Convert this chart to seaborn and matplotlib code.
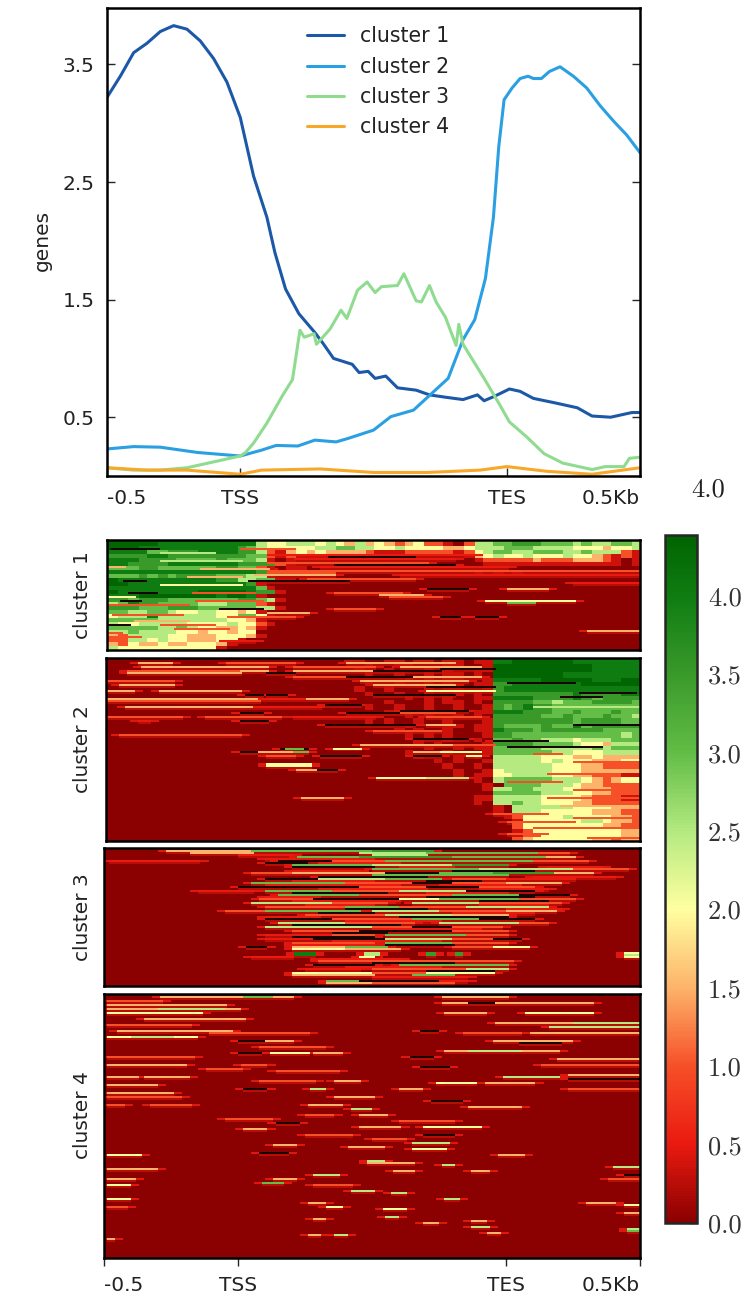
import numpy as np
import pandas as pd
import matplotlib
matplotlib.use("Agg")
import matplotlib.pyplot as plt
from matplotlib.colors import LinearSegmentedColormap, Normalize
from matplotlib.cm import ScalarMappable
import seaborn as sns

sns.set_style("white")
plt.rcParams["font.family"] = ["DejaVu Sans"]
plt.rcParams["axes.formatter.use_mathtext"] = True

# profile values (x in bins, TSS = 50, TES = 150, y = mean signal)
c1_x = [0,5,10,15,20,25,30,35,40,45,50,55,60,63,67,72,78,81,85,92,94.6,98,100.6,104.6,109,116,121,127,133.6,139,141.5,145.6,151,155,160,168.5,176.5,182,189,197,200]
c1_y = [3.22,3.4,3.6,3.68,3.78,3.83,3.8,3.7,3.55,3.35,3.05,2.55,2.2,1.9,1.59,1.38,1.22,1.13,1.0,.95,.88,.89,.83,.85,.75,.73,.69,.67,.65,.69,.64,.68,.74,.72,.66,.62,.58,.51,.50,.54,.54]
c2_x = [0,10,20,34,50,58,63.5,71.6,78,86,90.5,100,106.5,115,122.7,128,133.6,138,142,145,147,149,152,155,158,160,163,166,170,175,180,185,190,195,200]
c2_y = [.23,.25,.245,.2,.17,.22,.26,.255,.305,.29,.32,.39,.505,.56,.72,.83,1.16,1.33,1.68,2.2,2.8,3.2,3.3,3.38,3.40,3.38,3.38,3.44,3.48,3.4,3.3,3.15,3.02,2.9,2.75]
c3_x = [0,10,20,30,40,50,52,55,60,66,69.6,72.4,74,77.7,78.6,83.7,87.8,90,94,97.6,100.6,103,109,111.4,116,118,121,123.5,127,131,132,133.6,141.5,147,151,157.6,164,171,182,187,194,196,200]
c3_y = [.07,.05,.05,.07,.12,.17,.2,.28,.45,.69,.82,1.24,1.18,1.21,1.12,1.25,1.41,1.34,1.58,1.65,1.56,1.61,1.62,1.72,1.49,1.48,1.62,1.48,1.35,1.11,1.29,1.12,.83,.62,.46,.33,.19,.11,.055,.08,.08,.15,.16]
c4_x = [0,15,30,50,58,80,100,120,140,150,165,182,200]
c4_y = [.07,.05,.05,.015,.05,.06,.03,.03,.05,.08,.04,.015,.07]
profile_names = ["cluster 1", "cluster 2", "cluster 3", "cluster 4"]
profile_colors = ["#1c58a8", "#2a9fe2", "#8fdc90", "#f8a828"]

# coarse heatmap rows, one digit per column: value = digit * 0.5
heat1 = """
999998888 888888544 555454353 432342210 255667776 665655665
999888888 888876544 444556655 445444433 455566655 554443445
888866777 888877521 343433332 111222221 245665566 655655521
777788777 777776621 211110000 000000000 134544544 454432121
888777766 667666510 100000000 000000000 012222232 223332101
887777888 888877772 100000000 000000000 001111111 111111101
666776666 667766210 110000000 000000000 000000000 000000000
888888888 888888771 100000000 000000000 010101000 000000000
666767677 776665510 000000000 000000000 000000000 000000000
988888888 887755661 100000000 000000000 000000000 000000000
998888888 888887100 000000000 000000000 000000000 000000000
888888888 888888610 000000000 000000000 000000000 000000000
988888888 999998771 000000000 000000000 000000000 000000000
888999999 998998100 000000000 000000000 000000000 000000000
776777666 666677651 000000000 000000000 000000000 000000000
568776666 555666210 000000000 000000000 000000000 000000000
777666777 666666551 000000000 000000000 000000000 000000000
665566544 554434100 000000000 000000000 000000000 000000000
455585555 554466410 000000000 000000000 000000000 000000000
666665555 555443100 000000000 000000000 000000000 000000000
544555554 444544210 000000000 000000000 000000000 000000000
666665565 443343100 000000000 000000000 000000000 000000000
556555544 344344000 000000000 000000000 000000000 000000000
325555443 334443100 000000000 000000000 000000000 000000000
225545443 334410000 000000000 000000000 000000000 000000000
324334334 443100000 000000000 000000000 000000000 000000000
544444444 441000000 000000000 000000000 000000000 000000000
""".split("\n")
heat2 = """
000000000 000000000 000000110 011011011 011889999 998888888
000000000 000000000 000000001 001100011 001999999 999988888
000000000 000000000 000000010 010001010 011999999 999988888
000000000 000000000 000000001 001001011 010999999 988888888
000000000 000000000 000000000 000101011 001888889 999988899
000000000 000000000 000000001 001001010 011778888 888999999
000000000 000000000 000000010 010001011 001788888 888888888
000000000 000000000 000000001 001001001 010777777 778777788
000000000 000000000 000000000 000101010 011888877 778767777
000000000 000000000 000000000 010001011 010777766 566677776
000000000 000000000 000000001 001001001 001767877 666666666
000000000 000000000 000000000 010010010 011888777 667666766
000000000 000000000 000000000 000101001 010777776 676667665
000000000 000000000 000000001 010010010 001777777 776777766
000000000 000000000 000000000 000100011 011766667 668677777
000000000 000000000 000000000 001010010 011877767 777776666
000000000 000000000 000000000 000101010 001776666 666666656
000000000 000000000 000000000 000010010 010667665 554555666
000000000 000000000 000000000 000010100 001777766 665443555
000000000 000000000 000000000 000001001 011666665 555565666
000000000 000000000 000000000 000100010 001666666 554445555
000000000 000000000 000000000 000010001 010555554 443343333
000000000 000000000 000000000 000000101 001555554 544433344
000000000 000000000 000000000 000000010 010555555 444332222
000000000 000000000 000000000 000000001 001455555 444333333
000000000 000000000 000000000 000000001 011445555 443322211
000000000 000000000 000000000 000000000 010566666 555432344
000000000 000000000 000000000 000000000 001066665 554332222
000000000 000000000 000000000 000000000 001556655 544333222
000000000 000000000 000000000 000000000 000666665 554433222
000000000 000000000 000000000 000000000 011555554 444322211
000000000 000000000 000000000 000000000 010556554 443322222
000000000 000000000 000000000 000000000 000105555 554444333
000000000 000000000 000000000 000000000 000105554 444433322
000000000 000000000 000000000 000000000 000012444 454444332
000000000 000000000 000000000 000000000 000001444 444554332
000000000 000000000 000000000 000000000 000002444 444443322
000000000 000000000 000000000 000000000 000001244 444444433
000000000 000000000 000000000 000000000 000001224 444444433
000000000 000000000 000000000 000000000 000002344 444433233
""".split("\n")
heat3 = []
heat4 = []
heat_rows = [heat1, heat2, heat3, heat4]

# thin streaks read row by row: (row, first bin, last bin, digit); X is the dark colour
X = 20
streaks1 = [(4,1,19,X),(4,50,70,2),(6,20,40,5),(7,60,140,1),(8,83,115,X),(9,70,130,1),(10,20,50,5),(11,60,120,2),(12,85,130,X),(13,0,6,3),
            (13,80,150,1),(14,35,60,3),(15,60,199,2),(16,60,85,2),(17,55,85,3),(17,110,199,1),(18,30,50,3),(19,75,115,2),(20,6,14,X),(20,53,90,X),(21,175,199,1),
            (22,20,50,4),(24,120,135,X),(24,150,165,3),(26,8,18,X),(26,32,55,2),(26,85,110,2),(27,102,118,3),(28,0,10,4),(28,106,125,2),
            (30,5,12,X),(30,33,58,2),(30,142,175,4),(31,150,160,6),(32,0,30,2),(34,42,58,X),(34,85,100,2),(36,60,75,3),(37,2,28,2),(38,125,132,X),
            (38,138,146,X),(38,45,70,2),(40,10,30,3),(42,0,8,X),(42,20,40,2),(44,25,45,2),(45,180,199,3),(46,0,5,2),(48,0,12,2),(50,42,55,1)]
streaks2 = [(2,12,24,3),(2,45,70,2),(2,90,130,3),(4,13,60,3),(4,70,100,2),(4,110,140,3),(5,125,145,X),(6,8,50,2),
            (6,50,60,3),(6,70,100,3),(6,100,125,X),(7,8,50,3),(7,60,70,X),(9,70,100,2),(9,90,115,X),(9,115,140,3),
            (11,0,25,2),(11,95,135,3),(13,5,25,3),(13,100,130,3),(14,120,145,X),(16,0,10,3),(16,20,50,3),(16,120,145,4),
            (18,52,58,X),(18,60,67,X),(18,100,130,X),(20,0,57,3),(20,57,75,1),(20,75,90,3),(21,0,57,2),(23,82,95,X),
            (24,7,55,3),(24,55,80,1),(26,110,135,X),(27,50,58,X),(27,90,110,X),(27,110,130,2),(29,0,28,2),(29,37,65,2),
            (29,70,100,1),(29,120,140,2),(31,12,16,1),(31,50,60,X),(33,82,95,X),(33,95,115,X),(33,120,130,3),(36,100,125,2),
            (38,5,50,2),(40,115,135,X),(43,95,130,3),(43,130,145,2),(45,65,75,X),(45,67,73,6),(45,85,95,4),(47,50,60,X),
            (47,57,70,3),(47,70,75,6),(47,115,125,3),(47,125,140,4),(49,60,70,2),(49,80,95,X),(49,115,125,X),(49,135,140,4),
            (53,60,76,4),(54,60,76,4),(56,71,86,X),(56,71,78,3),(60,101,120,4),(60,120,135,5),(70,73,88,3),
            (17,177,198,X),(19,170,185,X),(12,150,175,X),(24,160,199,5),(33,175,199,X),(41,145,165,X),(44,150,185,X),
            (48,160,170,2),(52,175,199,2),(58,165,185,2),(62,150,170,2),(66,175,199,2),(70,165,199,2),(74,170,199,3),
            (78,145,165,2),(80,175,199,2),(82,150,175,2),(85,160,199,2),(88,150,165,2),(90,180,199,2)]
streaks3 = [(1,23,55,3),(1,55,100,6),(1,100,122,7),(2,32,55,3),(2,95,125,5),(2,120,165,6),(2,162,173,2),(3,100,120,5),
            (4,72,95,6),(4,95,130,7),(4,130,165,6),(4,165,175,3),(6,2,35,1),(6,65,85,X),(6,85,105,2),(6,105,125,6),(6,125,160,6),(6,160,180,2),
            (8,70,100,6),(8,100,130,5),(8,130,150,7),(10,100,140,6),(10,140,175,5),(10,175,195,2),(12,55,70,2),(12,70,105,3),
            (12,105,125,X),(12,125,145,6),(12,145,168,7),(12,168,182,3),(13,100,125,6),(13,125,150,6),(14,160,190,1),
            (15,60,80,X),(15,80,105,5),(15,105,125,6),(15,130,150,2),(15,150,175,1),(17,55,90,6),(17,90,115,2),(17,115,130,X),
            (17,130,150,2),(17,150,170,3),(19,50,95,X),(19,95,120,2),(19,120,140,X),(19,140,160,2),(21,35,55,1),(21,60,85,6),
            (21,85,110,2),(21,110,135,5),(21,135,160,X),(23,65,95,6),(23,95,130,2),(23,130,155,6),(23,155,173,X),(25,58,78,2),
            (25,78,110,X),(25,110,125,4),(25,125,155,6),(25,155,175,2),(27,55,85,5),(27,85,105,2),(27,115,140,5),(27,140,170,2),
            (29,60,90,2),(29,90,110,6),(29,110,135,2),(29,135,165,5),(31,45,60,2),(31,60,95,6),(31,100,125,5),(31,125,150,2),
            (31,150,168,3),(33,75,105,2),(33,105,130,5),(33,130,150,3),(35,60,85,X),(35,85,115,2),(35,115,140,6),(35,140,160,X),
            (37,65,90,5),(37,90,115,2),(37,125,155,5),(37,155,165,2),(39,60,100,5),(39,100,115,2),(39,115,130,X),(39,130,148,2),
            (41,70,95,2),(41,95,130,X),(41,130,150,2),(43,60,85,1),(43,85,100,2),(43,105,135,6),(43,135,150,2),(45,60,78,1),
            (45,78,105,X),(45,105,130,5),(45,130,145,2),(45,145,155,X),(47,70,100,2),(47,105,130,6),(47,130,150,2),(49,53,60,X),
            (49,70,90,3),(49,90,105,6),(49,130,145,2),(49,145,158,4),(50,70,90,4),(50,90,110,3),(52,71,78,8),(52,97,102,5),
            (52,120,123,7),(52,131,133,7),(53,71,78,8),(53,97,102,5),(53,120,123,7),(53,131,133,7),(52,194,199,4),(53,194,199,5),
            (54,55,70,1),(54,95,100,4),(54,194,199,4),(56,80,110,2),(56,110,145,2),(56,145,152,2),(58,78,100,X),(58,110,150,6),
            (60,75,95,1),(60,100,135,2),(60,135,150,5),(62,70,100,4),(62,100,120,2),(62,120,145,4),(63,70,100,3),(63,115,130,6),
            (66,83,95,6),(66,95,125,X),(66,125,135,1),(67,83,100,3),(67,100,130,2),
            (3,50,70,1),(5,60,100,1),(7,60,75,X),(7,80,110,1),(9,70,100,X),(9,110,130,1),(9,165,185,1),(11,70,95,1),(11,130,160,X),
            (14,80,120,X),(16,70,100,1),(16,120,140,X),(18,60,110,1),(18,125,155,1),(20,80,120,1),(20,140,165,1),(22,70,105,X),(22,120,150,1),
            (24,60,80,1),(24,120,160,X),(26,70,110,1),(26,140,165,X),(28,75,100,1),(28,140,165,1),(30,90,120,X),(30,150,170,1),(32,80,100,X),
            (32,130,160,1),(34,60,80,1),(34,110,150,X),(36,90,125,1),(38,70,110,X),(40,100,140,1),(42,85,105,X),(44,70,100,X),(46,85,125,1),
            (48,70,100,1),(48,105,130,X),(55,80,110,1),(57,100,130,X),(59,90,125,1),(61,120,145,X),(64,100,135,1)]
streaks4 = [(1,21,70,3),(1,52,62,6),(3,1,21,2),(5,1,45,3),(7,1,50,3),(7,20,44,5),(9,1,36,4),(12,15,52,3),(15,1,32,2),
            (18,5,47,3),(19,39,76,2),(21,1,34,4),(21,10,25,5),(23,50,60,X),(23,60,70,3),(26,58,82,2),(29,50,58,X),(29,62,76,4),
            (29,78,88,3),(31,1,33,2),(35,1,30,3),(35,51,60,2),(37,38,51,2),(38,64,87,2),(41,1,12,3),(41,15,31,3),(43,58,78,2),
            (43,86,95,3),(45,1,19,3),(47,52,60,X),(47,77,82,5),(49,1,25,3),(51,1,28,2),(51,86,100,3),(55,1,7,2),(55,17,32,2),
            (55,76,88,3),(57,92,99,5),(62,45,62,2),(64,64,72,X),(67,52,60,3),
            (1,126,150,3),(4,126,182,3),(4,136,145,X),(9,157,182,4),(9,127,142,3),(14,146,199,3),(14,175,199,5),(16,166,199,5),
            (19,134,155,2),(19,159,199,3),(23,145,174,3),(18,118,124,X),(28,127,169,3),(28,136,155,5),(32,169,199,3),(35,163,199,2),
            (24,155,170,X),(40,173,199,3),(41,149,169,5),(42,173,199,X),(44,124,138,4),(44,142,160,3),(47,173,199,2),(53,122,133,X),
            (56,136,155,3),(31,114,122,X),(36,118,128,X),(47,110,118,3),
            (66,119,140,4),(70,119,130,X),(74,115,128,5),(75,63,71,3),(76,91,104,3),(77,115,127,4),(79,58,68,X),(80,147,156,3),
            (60,95,105,3),(60,75,85,2),(63,110,130,2),(66,95,110,3),(70,75,92,2),(72,100,112,2),
            (83,98,104,5),(84,98,115,3),(85,126,130,5),(88,108,115,3),(88,137,143,3),(90,78,87,5),(92,63,71,3),(94,59,66,6),
            (95,78,92,2),(98,92,100,5),(99,107,112,5),(102,127,132,5),(104,76,82,3),(106,83,88,4),(107,104,112,4),(111,105,109,5),
            (112,78,82,3),(113,137,142,3),(114,119,124,3),(116,137,143,5),(119,143,147,3),(120,76,80,3),(120,86,90,5),
            (80,1,13,4),(87,1,19,3),(92,1,11,3),(95,1,9,4),(102,1,9,4),(106,1,8,2),(86,190,199,5),(90,194,199,X),(92,188,199,2),
            (104,180,190,3),(105,194,199,4),(109,194,199,3),(117,195,199,5),(118,195,199,6),(122,1,3,3)]
all_streaks = [streaks1, streaks2, streaks3, streaks4]
fine_rows = [55, 92, 69, 132]
fine_cols = 200

cbar_ticks = [0.0, 0.5, 1.0, 1.5, 2.0, 2.5, 3.0, 3.5, 4.0]
x_labels = ["-0.5", "TSS", "TES", "0.5Kb"]
y_ticks = [0.5, 1.5, 2.5, 3.5]

W, H = 751, 1308
def box(l, t, r, b):
    return [l / W, 1 - b / H, (r - l) / W, (b - t) / H]

fig = plt.figure(figsize=(7.51, 13.08), dpi=100, facecolor="white")
tcol = "#222222"
fs = 14.5

# ---- profile
ax = fig.add_axes(box(107, 8, 640, 476))
for xs, ys, n, c in zip([c1_x, c2_x, c3_x, c4_x], [c1_y, c2_y, c3_y, c4_y], profile_names, profile_colors):
    sns.lineplot(x=xs, y=ys, ax=ax, color=c, label=n, lw=2.2, sort=False, errorbar=None)
ax.set_xlim(0, 200)
ax.set_ylim(0.0, 3.98)
ax.set_yticks(y_ticks)
ax.set_yticklabels([str(v) for v in y_ticks], fontsize=fs, color=tcol)
ax.set_xticks([0, 50, 150, 200])
ax.set_xticklabels(x_labels, fontsize=fs, color=tcol)
ax.tick_params(axis="both", direction="in", length=6, width=1, left=True, bottom=True, right=True, pad=9)
ax.set_ylabel("genes", fontsize=fs, color=tcol)
ax.yaxis.set_label_coords((52 - 107) / 533, 1 - (240 - 8) / 468)
for s in ax.spines.values():
    s.set_linewidth(1.8); s.set_color("black"); s.set_visible(True)
lab = ax.get_xticklabels()
lab[0].set_ha("left"); lab[3].set_ha("right")
ax.legend(loc="upper left", bbox_to_anchor=(0.34, 1.0), frameon=False, fontsize=14.8,
          labelspacing=0.5, handlelength=1.8, handletextpad=0.8, labelcolor=tcol)

# ---- colormap
stops = [(0.0, "#8b0000"), (0.5 / 4.39, "#ea1a10"), (1.0 / 4.39, "#f65028"), (1.5 / 4.39, "#fdb36a"),
         (2.0 / 4.39, "#ffffa0"), (2.5 / 4.39, "#b4ea80"), (3.0 / 4.39, "#62bd45"),
         (3.5 / 4.39, "#3a9a2a"), (4.0 / 4.39, "#0f7d12"), (1.0, "#006400")]
cmap = LinearSegmentedColormap.from_list("cl", stops, N=256)
cmap.set_over("#1a0500")

# ---- heatmaps
boxes = [(107, 540, 640, 650), (106, 658, 640, 841), (104, 848, 640, 986), (104, 994, 640, 1258)]
label_y = [0.5, 0.5, 0.5, 0.54]
for i, (rows, bx) in enumerate(zip(heat_rows, boxes)):
    nr = fine_rows[i]
    mat = np.zeros((nr, fine_cols))
    rows = [r.replace(" ", "") for r in rows if r.strip()]
    if rows:
        base = np.array([[0.35 if ch == "1" else min(int(ch) * 0.5, 4.35) for ch in r.ljust(54, "0")[:54]] for r in rows])
        ri = (np.arange(nr) * base.shape[0] / nr).astype(int)
        ci = (np.arange(fine_cols) * 54 / fine_cols).astype(int)
        mat = base[ri][:, ci]
    for r, c0, c1, d in all_streaks[i]:
        mat[r, c0:c1 + 1] = d * 0.5
    # red fringe around every read streak, only on empty background cells
    fringe = mat.copy()
    for r, c0, c1, d in all_streaks[i]:
        lo, hi = max(c0 - 3, 0), min(c1 + 4, fine_cols)
        seg = fringe[r, lo:hi]
        seg[seg == 0] = 0.45
        if r + 1 < nr:
            seg = fringe[r + 1, c0:c1 + 1]
            seg[seg == 0] = 0.25
    a = fig.add_axes(box(*bx))
    sns.heatmap(pd.DataFrame(fringe), ax=a, cmap=cmap, vmin=0, vmax=4.39, cbar=False,
                xticklabels=False, yticklabels=False, rasterized=True)
    for s in a.spines.values():
        s.set_visible(True); s.set_linewidth(1.8); s.set_color("black")
    a.set_ylabel(f"cluster {i + 1}", fontsize=fs, color=tcol)
    a.yaxis.set_label_coords((92 - bx[0]) / (bx[2] - bx[0]), label_y[i])
    if i == 3:
        a.set_xticks([0, 50, 150, 200])
        a.set_xticklabels(x_labels, fontsize=fs, color=tcol, rotation=0)
        a.tick_params(axis="x", bottom=True, direction="out", length=6, width=1, pad=7)
        l = a.get_xticklabels()
        l[0].set_ha("left"); l[3].set_ha("right")

# ---- colour bar
cax = fig.add_axes(box(665, 535, 697, 1223))
cb = fig.colorbar(ScalarMappable(norm=Normalize(0, 4.39), cmap=cmap), cax=cax)
cb.set_ticks(cbar_ticks)
cb.set_ticklabels([f"{v:.1f}" for v in cbar_ticks], fontsize=19, family="cmr10", color=tcol)
cb.ax.tick_params(direction="in", length=6, width=1, pad=8, colors="#333333")
cb.outline.set_linewidth(1.8)
fig.text(708 / W, 1 - 490 / H, "4.0", fontsize=19, family="cmr10", color=tcol, ha="center", va="center")

fig.savefig("out.png", dpi=100)
